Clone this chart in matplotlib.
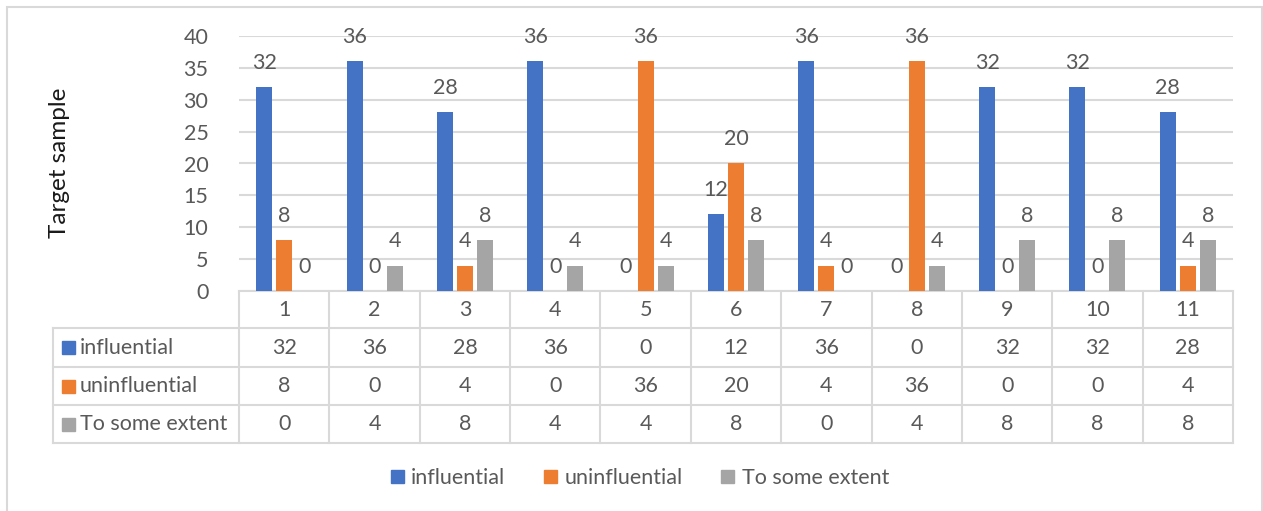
import numpy as np
import matplotlib.pyplot as plt
from matplotlib.patches import Patch, Rectangle
from matplotlib.transforms import blended_transform_factory

plt.rcParams['font.family'] = ['Lato', 'DejaVu Sans']

# data
categories = ['1', '2', '3', '4', '5', '6', '7', '8', '9', '10', '11']
influential = [32, 36, 28, 36, 0, 12, 36, 0, 32, 32, 28]
uninfluential = [8, 0, 4, 0, 36, 20, 4, 36, 0, 0, 4]
some_extent = [0, 4, 8, 4, 4, 8, 0, 4, 8, 8, 8]
series_names = ['influential', 'uninfluential', 'To some extent']
series_colors = ['#4472C4', '#ED7D31', '#A5A5A5']
series = [influential, uninfluential, some_extent]

W, H = 1263, 511
txt = '#595959'
grid = '#D9D9D9'
fs = 15.5

fig = plt.figure(figsize=(W / 100, H / 100), dpi=100)
ax = fig.add_axes([239 / W, 1 - 291 / H, 994 / W, 255 / H])

x = np.arange(len(categories))
bw = 0.177
pitch = 0.221
for k, (vals, col) in enumerate(zip(series, series_colors)):
    xs = x + (k - 1) * pitch
    ax.bar(xs, vals, width=bw, color=col, zorder=3)
    for xi, v in zip(xs, vals):
        ax.annotate(str(v), (xi, v), xytext=(0, 17.3), textcoords='offset points',
                    ha='center', va='center', fontsize=fs, color=txt)

ax.set_xlim(-0.5, len(categories) - 0.5)
ax.set_ylim(0, 40)
ax.set_yticks(range(0, 41, 5))
ax.yaxis.grid(True, color=grid, linewidth=1.5, zorder=0)
ax.tick_params(axis='y', length=0, labelsize=fs, labelcolor=txt, pad=22)
ax.set_xticks([])
for s in ax.spines.values():
    s.set_visible(False)
fig.text(60 / W, 1 - 163 / H, 'Target sample', rotation=90, ha='center', va='center',
         fontsize=17.5, color='#1a1a1a')

# data table under the axis
tr = blended_transform_factory(ax.transData, fig.transFigure)
fy = lambda p: 1 - p / H
rows = [292, 328, 367, 405, 443]
lw = 1.5
for xb in np.arange(len(categories) + 1) - 0.5:
    ax.plot([xb, xb], [fy(rows[0]), fy(rows[-1])], transform=tr, color=grid, lw=lw, clip_on=False)
ax.plot([-0.5, len(categories) - 0.5], [fy(291), fy(291)], transform=tr, color=grid, lw=lw, clip_on=False)
for r in rows[1:]:
    fig.add_artist(plt.Line2D([53 / W, 1233 / W], [fy(r), fy(r)], color=grid, lw=lw))
fig.add_artist(plt.Line2D([53 / W, 53 / W], [fy(rows[1]), fy(rows[-1])], color=grid, lw=lw))

for xi, c in zip(x, categories):
    ax.text(xi, fy((rows[0] + rows[1]) / 2), c, transform=tr, ha='center', va='center',
            fontsize=fs, color=txt)
for j, (name, vals, col) in enumerate(zip(series_names, series, series_colors)):
    yc = fy((rows[j + 1] + rows[j + 2]) / 2)
    fig.add_artist(Rectangle((62 / W, yc - 6.5 / H), 13 / W, 13 / H, color=col,
                             transform=fig.transFigure))
    fig.text(80 / W, yc, name, ha='left', va='center', fontsize=fs, color=txt)
    for xi, v in zip(x, vals):
        ax.text(xi, yc, str(v), transform=tr, ha='center', va='center', fontsize=fs, color=txt)

# legend
handles = [Patch(color=c, label=n) for n, c in zip(series_names, series_colors)]
fig.legend(handles=handles, loc='center', bbox_to_anchor=(640 / W, fy(478)), ncol=3,
           frameon=False, fontsize=fs, labelcolor=txt, handlelength=0.6, handleheight=0.6,
           handletextpad=0.35, columnspacing=1.8)

# chart border
fig.add_artist(Rectangle((7 / W, -0.01), 1255 / W, (H - 7) / H + 0.01, fill=False,
                         edgecolor=grid, lw=1.5, transform=fig.transFigure))

fig.savefig('out.png', dpi=100)
